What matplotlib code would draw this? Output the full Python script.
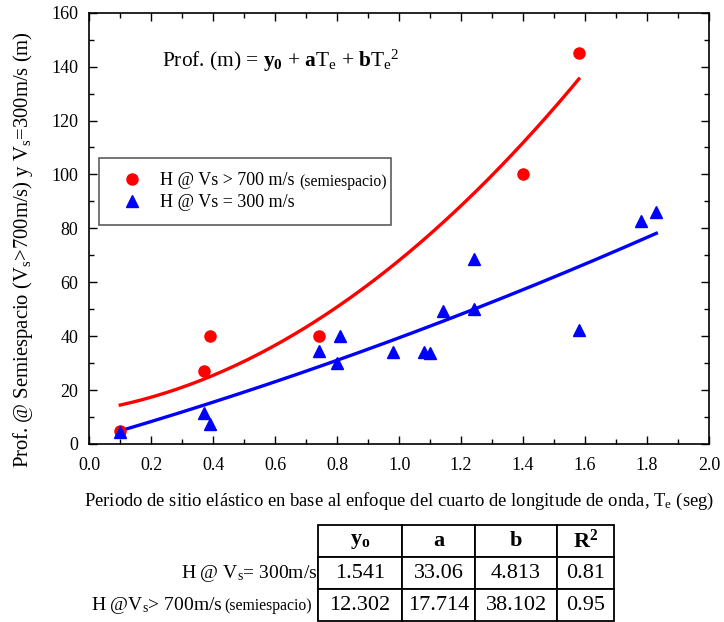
import matplotlib
matplotlib.use("Agg")
import matplotlib.pyplot as plt
import numpy as np
from matplotlib.ticker import MultipleLocator

plt.rcParams['font.family'] = ['Liberation Serif', 'DejaVu Serif']
plt.rcParams['mathtext.fontset'] = 'custom'
plt.rcParams['mathtext.rm'] = 'Liberation Serif'
plt.rcParams['mathtext.it'] = 'Liberation Serif:italic'
plt.rcParams['mathtext.bf'] = 'Liberation Serif:bold'

# Data
te_700 = [0.10, 0.37, 0.39, 0.74, 1.40, 1.58]
h_700 = [5, 27, 40, 40, 100, 145]
te_300 = [0.10, 0.37, 0.39, 0.74, 0.80, 0.81, 0.98, 1.08, 1.10, 1.14, 1.24, 1.24, 1.58, 1.78, 1.83]
h_300 = [4.5, 11.5, 7.4, 34.5, 30, 40, 34.3, 34.3, 33.6, 49.5, 68.5, 50, 42.3, 82.8, 86]

coef_300 = [1.541, 33.06, 4.813]
coef_700 = [12.302, 17.714, 38.102]

col_labels = ["y$_\\mathbf{o}$", "a", "b", "R$^\\mathbf{2}$"]
row_labels = ["H @ V$_\\mathrm{s}$= 300m/s", "H @V$_\\mathrm{s}$> 700m/s"]
row_note = ["", "(semiespacio)"]
cell_text = [["1.541", "33.06", "4.813", "0.81"],
             ["12.302", "17.714", "38.102", "0.95"]]

W, H = 724, 622
fig = plt.figure(figsize=(W/100, H/100), dpi=100)
AX_L, AX_R, AX_T, AX_B = 89.3, 709.0, 12.7, 444.0
ax = fig.add_axes([AX_L/W, 1-AX_B/H, (AX_R-AX_L)/W, (AX_B-AX_T)/H])

ax.set_xlim(0, 2.0)
ax.set_ylim(0, 160)

# fits
t1 = np.linspace(0.10, 1.83, 200)
ax.plot(t1, coef_300[0] + coef_300[1]*t1 + coef_300[2]*t1**2, color='#0000ff', lw=2.4, zorder=2)
t2 = np.linspace(0.10, 1.58, 200)
ax.plot(t2, coef_700[0] + coef_700[1]*t2 + coef_700[2]*t2**2, color='#ff0000', lw=2.4, zorder=2)

ax.plot(te_700, h_700, 'o', color='#ff0000', ms=8, ls='none', zorder=3,
        label='H @ Vs > 700 m/s')
ax.plot(te_300, h_300, '^', color='#0000ff', ms=8.5, ls='none', zorder=3,
        label='H @ Vs = 300 m/s')

ax.set_xticks(np.arange(0, 2.01, 0.2))
ax.set_xticklabels([f"{v:.1f}" for v in np.arange(0, 2.01, 0.2)])
ax.xaxis.set_minor_locator(MultipleLocator(0.1))
ax.yaxis.set_major_locator(MultipleLocator(20))
ax.yaxis.set_minor_locator(MultipleLocator(10))
ax.tick_params(which='both', direction='in', top=True, right=True, labelsize=13, width=1)
ax.tick_params(which='major', length=6)
ax.tick_params(which='minor', length=3.5)
ax.tick_params(axis='x', which='major', pad=9)
ax.tick_params(axis='y', which='major', pad=8)
for s in ax.spines.values():
    s.set_linewidth(1.2)

ax.set_xlabel("Periodo de sitio elástico en base al enfoque del cuarto de longitude de onda, T$_\\mathrm{e}$ (seg)",
              fontsize=13.4)
ax.xaxis.set_label_coords(0.5, -0.108)
ax.set_ylabel("Prof. @ Semiespacio (V$_\\mathrm{s}$>700m/s) y V$_\\mathrm{s}$=300m/s (m)", fontsize=14.9)
ax.yaxis.set_label_coords(-0.087, 0.45)

ax.text(0.236, 142.3, "Prof. (m) = $\\mathbf{y_0}$ + $\\mathbf{a}$T$_\\mathrm{e}$ + $\\mathbf{b}$T$_\\mathrm{e}$$^\\mathrm{2}$",
        fontsize=15.4, va='center', ha='left')

def ax_x(px):
    return (px - AX_L) / (AX_R - AX_L)

def ax_y(py):
    return (AX_B - py) / (AX_B - AX_T)

leg_top, leg_bot = 158, 226
leg = ax.legend(loc='upper left',
                bbox_to_anchor=(ax_x(99), ax_y(leg_bot), ax_x(391) - ax_x(99), ax_y(leg_top) - ax_y(leg_bot)),
                mode='expand', fontsize=13, frameon=True, fancybox=False, edgecolor='#333333',
                borderpad=0.8, handletextpad=0.6, labelspacing=0.25, borderaxespad=0,
                handlelength=2.0)
leg.get_frame().set_linewidth(1.2)
fig.canvas.draw()
r = fig.canvas.get_renderer()
inv = fig.transFigure.inverted()

def text_width(s, fs):
    t = fig.text(0, 0, s, fontsize=fs)
    w = t.get_window_extent(r).width
    t.remove()
    return w

t0 = leg.get_texts()[0]
bb = t0.get_window_extent(r)
x_, y_ = inv.transform((bb.x1 + 4, (bb.y0 + bb.y1)/2 - 1))
fig.text(x_, y_, "(semiespacio)", fontsize=11.3, va='center', ha='left')

# table
tax = fig.add_axes([140/W, 1-621/H, (614-140)/W, (621-525)/H])
tax.axis('off')
full = [[""] + col_labels] + [[""] + cell_text[i] for i in range(2)]
colw = [318-140, 402-318, 475-402, 557-475, 614-557]
colw = [c/sum(colw) for c in colw]
tbl = tax.table(cellText=full, colWidths=colw, bbox=[0, 0, 1, 1], cellLoc='center')
tbl.auto_set_font_size(False)
for (ri, ci), cell in tbl.get_celld().items():
    cell.set_linewidth(1.3)
    cell.get_text().set_fontsize(16)
    if ci == 0:
        cell.visible_edges = 'R' if ri > 0 else ''
    if ri == 0 and ci > 0:
        cell.get_text().set_fontweight('bold')
fig.canvas.draw()

# row labels, right aligned at the table's left border
for i, (lab, note) in enumerate(zip(row_labels, row_note)):
    cb = tbl[i + 1, 0].get_window_extent(r)
    xr = cb.x1 - 1
    yc = (cb.y0 + cb.y1) / 2
    if note:
        xr -= 5
        nx, ny = inv.transform((xr, yc - 1))
        fig.text(nx, ny, note, fontsize=11.3, ha='right', va='center')
        xr -= text_width(note, 11.3) + 2
    lx, ly = inv.transform((xr, yc))
    fig.text(lx, ly, lab, fontsize=14, ha='right', va='center')

fig.savefig("out.png", dpi=100)
